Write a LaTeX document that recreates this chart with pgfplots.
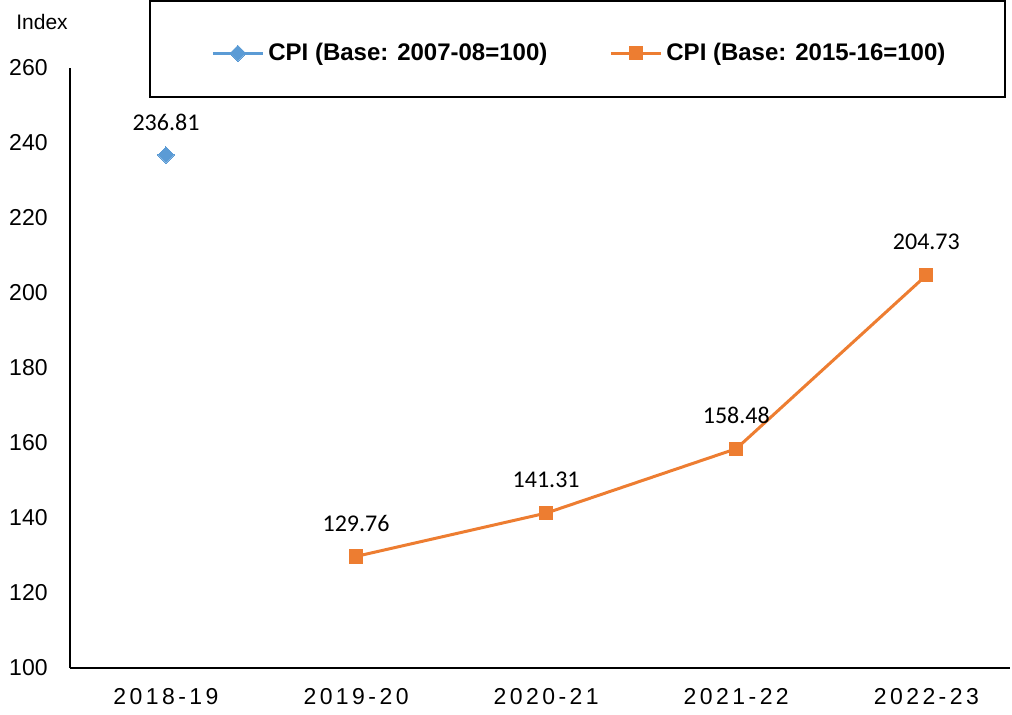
\documentclass[border=0pt]{standalone}
\usepackage{pgfplots}
\pgfplotsset{compat=1.18}
\usepackage{fontspec}
\setmainfont{Liberation Sans}
\newfontfamily\carlito{Carlito}
\newfontfamily\spaced[LetterSpace=15]{Liberation Sans}
\definecolor{cblue}{HTML}{5B9BD5}
\definecolor{corange}{HTML}{ED7D31}
\begin{document}
\begin{tikzpicture}
\begin{axis}[
  scale only axis,
  width=470pt, height=300pt,
  xmin=-0.505, xmax=4.44,
  ymin=100, ymax=260,
  ytick={100,120,...,260},
  xtick={0,1,2,3,4},
  xticklabels={2018-19,2019-20,2020-21,2021-22,2022-23},
  axis x line*=bottom, axis y line*=left,
  axis line style={black, line width=0.75pt, -},
  major tick length=0pt,
  /pgf/number format/assume math mode=true,
  yticklabel style={font=\fontsize{11.5}{13}\selectfont, inner sep=0pt, xshift=-11pt},
  xticklabel style={font=\fontsize{11.5}{13}\selectfont\spaced, inner sep=0pt, yshift=-10pt},
  legend columns=2,
  legend style={at={(0.543,1.0245)}, anchor=center, draw=none, fill=none,
    font=\fontsize{12}{14}\selectfont\bfseries,
    /tikz/every even column/.append style={column sep=29pt}},
  legend image code/.code={\draw[mark repeat=2,mark phase=2] plot coordinates {(0pt,0pt)(12.5pt,0pt)(25pt,0pt)};},
  nodes near coords,
  every node near coord/.append style={font=\carlito\fontsize{12}{14}\selectfont, black, anchor=center, yshift=16.5pt},
  point meta=explicit symbolic,
]
\addplot[color=cblue, line width=1.5pt, mark=square*, mark size=2.85pt, mark options={fill=cblue, draw=cblue, line width=0pt, rotate=45}]
  coordinates {(0,236.81)[236.81]};
\addlegendentry{CPI (Base: 2007-08=100)}
\addplot[color=corange, line width=1.5pt, mark=square*, mark size=3.3pt, mark options={fill=corange, draw=corange, line width=0pt}]
  coordinates {(1,129.76)[129.76] (2,141.31)[141.31] (3,158.48)[158.48] (4,204.73)[204.73]};
\addlegendentry{CPI (Base: 2015-16=100)}
\end{axis}
\draw[black, line width=1pt] (40pt,285.5pt) rectangle (467.5pt,333.5pt);
\node[font=\fontsize{10.5}{12}\selectfont] at (-14pt,323pt) {Index};
\pgfresetboundingbox
\useasboundingbox (-35pt,-23pt) rectangle (471pt,334pt);
\end{tikzpicture}
\end{document}
